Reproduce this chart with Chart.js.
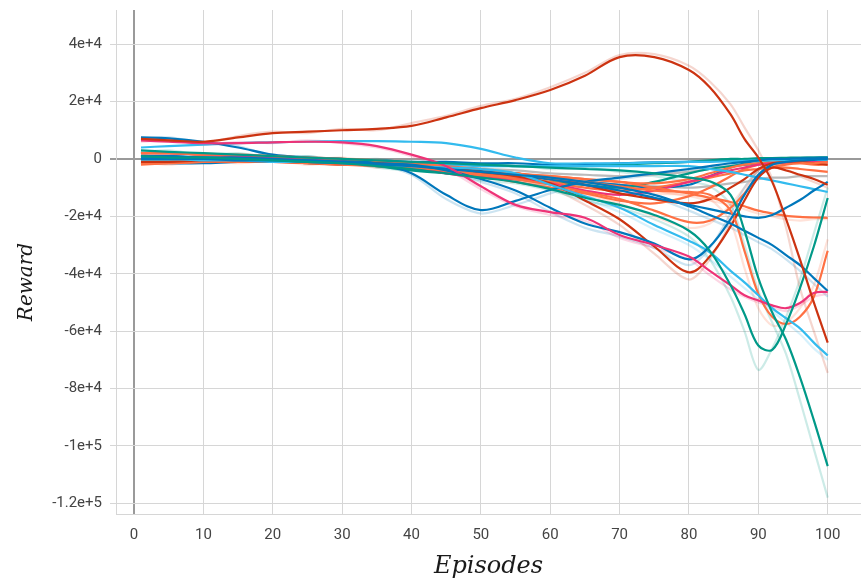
<!DOCTYPE html>
<html>
<head>
<meta charset="utf-8">
<title>Reward vs Episodes</title>
<script src="https://cdn.jsdelivr.net/npm/chart.js@4.4.1/dist/chart.umd.min.js"></script>
<style>
  html, body { margin: 0; padding: 0; background: #fff; }
  canvas { display: block; }
</style>
</head>
<body>
<canvas id="rewardChart" width="861" height="581"></canvas>
<script>
const episodes = [1, 5, 10, 15, 20, 25, 30, 35, 40, 45, 50, 55, 60, 65, 70, 75, 80, 83, 86, 88, 90, 92, 94, 96, 98, 100];
const xTicks = [0, 10, 20, 30, 40, 50, 60, 70, 80, 90, 100];
const yTicks = [-120000, -100000, -80000, -60000, -40000, -20000, 0, 20000, 40000];
const yTickLabels = ['-1.2e+5', '-1e+5', '-8e+4', '-6e+4', '-4e+4', '-2e+4', '0', '2e+4', '4e+4'];

// rewards, in thousands (smoothed runs)
const redPeak = [7, 6.5, 6, 7.5, 9, 9.5, 10, 10.5, 11.5, 14.5, 17.7, 20.5, 24, 29, 35.5, 35.5, 31, 25, 15.5, 7, 0.5, -8, -21, -35, -50, -64];
const tealDeep = [3, 2.5, 2, 1.5, 1, 0.5, 0, -0.5, -1, -1.5, -2, -2.5, -3, -3.5, -4, -5, -6.5, -7.8, -12.5, -25, -41.5, -53.5, -63, -76, -91, -107];
const tealDip = [1, 0.5, 0.5, 0, -0.5, -1, -1.5, -2.5, -3.5, -5, -6.5, -8, -10.5, -13.5, -16, -19.5, -25, -32, -44, -54, -65, -66.5, -57.5, -45, -30.5, -13.6];
const pinkA = [6.5, 6, 5.5, 5.5, 5.8, 6, 5.8, 4.5, 1.5, -2.5, -9.5, -16, -18.5, -20.5, -26.5, -30, -34, -39, -44, -47.5, -49.3, -51, -52, -50.2, -46.7, -46.3];
const pinkB = [2, 2, 1.5, 1, 0.5, 0, -1, -2, -3, -5, -6.5, -7, -8.5, -11, -12.5, -11, -8, -6, -4, -3, -2, -1.5, -1.2, -1, -1, -1];
const redV = [-1, -1, -0.5, -0.5, -1, -1, -1.5, -1.5, -2, -3, -4.5, -6, -8.5, -14.5, -21, -30.5, -39.5, -34, -23.5, -14.5, -6.5, -3, -4, -5.5, -7, -9];
const red3 = [-0.5, -0.5, -1, -1, -1, -1.5, -2, -2, -2.5, -3, -4, -5, -7, -9, -12, -14, -15.5, -14, -10, -7, -3.5, -1.5, -1, -1, -1.5, -2];
const blueA = [7.5, 7.2, 6, 4, 1.5, 0.5, 0, -1.5, -5, -12.5, -17.8, -14.6, -10.8, -8, -6.5, -5, -3.5, -2.5, -1.5, -1, -0.5, 0, 0, 0.2, 0.2, 0.3];
const blueB = [1, 1, 0.5, 0.5, 0, -0.5, -1, -1.5, -2, -4, -7, -11, -17, -22.5, -25.5, -29.5, -35, -30.5, -21, -12.5, -5.5, -2, -1, -0.5, -0.3, 0];
const blueC = [0, 0, 0, -0.5, -0.5, -1, -1.5, -2, -2.5, -3.5, -4.5, -5.5, -6.5, -8, -10, -12.5, -16.5, -19.5, -22.5, -25, -27.5, -30, -33.5, -37, -41.5, -46];
const blueD = [0.5, 0.5, 0, 0, -0.5, -0.5, -1, -1.5, -2, -3, -4, -5.5, -7, -9, -11, -13.5, -16, -17.5, -19, -20, -20.5, -19.5, -17, -14.3, -11, -8];
const blueE = [1, 1, 0.5, 0.5, 0, 0, -0.5, -0.5, -1, -1, -1.5, -1.5, -2, -2, -1.5, -1.2, -1, -0.8, -0.5, -0.3, 0, 0.2, 0.3, 0.3, 0.4, 0.5];
const blueF = [-1.5, -1.5, -1.5, -1, -1, -1, -1.5, -2, -3, -4, -5, -6, -7, -8, -9, -10, -9, -6, -3, -1.5, -0.5, 0, 0.2, 0.3, 0.4, 0.5];
const cyanA = [4, 4.5, 5, 5.5, 5.8, 6, 6.2, 6.2, 6, 5.5, 3.5, 0.5, -1.5, -1.5, -1.5, -1.2, -1, -1, -0.8, -0.7, -0.5, -0.5, -0.4, -0.3, -0.3, -0.3];
const cyanB = [0, 0, -0.5, -0.5, -1, -1, -1.5, -2, -2.5, -3, -3.5, -5, -9, -13, -17, -23, -28.5, -32.5, -39, -43, -47.5, -52, -55.5, -59, -64, -68.5];
const cyanC = [-0.5, -0.5, -0.5, -0.5, -1, -1, -1.5, -1.5, -2, -2, -2.5, -2.5, -2.5, -2.5, -2.5, -2.5, -2.5, -3.5, -4.5, -5.5, -6.5, -7.5, -8.5, -9.5, -10.5, -11.5];
const orangeA = [2, 2, 1.5, 1.5, 1, 0.5, 0, -0.5, -1.5, -2.5, -3.5, -5, -6.5, -8, -9.5, -11, -11.5, -12.5, -18, -32, -47, -55, -57.5, -55, -48, -32];
const orangeB = [0, 0, 0, -0.5, -0.5, -1, -1.5, -2, -2.5, -3.5, -4.5, -5.5, -6, -7, -8, -10, -12, -13.5, -15, -16.5, -18, -19, -19.8, -20.2, -20.4, -20.5];
const orangeC = [-1.5, -1.5, -1, -1, -1, -1.5, -2, -2.5, -3, -4, -5.5, -7, -9, -11.5, -14, -18, -22, -21.5, -17, -12, -6, -3, -2, -1.5, -1.5, -1];
const orangeD = [2, 2, 1.5, 1, 1, 0.5, 0, -1, -2, -3, -4, -5, -6, -7, -8, -8.5, -7, -5, -3, -2, -1.5, -1.5, -1.5, -1.5, -2, -2];
const orangeE = [-0.5, 0, 0, -0.5, -0.5, -1, -1.5, -2, -3, -4, -5, -6.5, -8, -10, -11, -10, -8, -6.5, -5, -4, -3.5, -3, -3, -3.5, -4, -4.5];
const orangeF = [-2, -1.5, -1, -0.5, -0.5, -0.5, -1, -1.5, -3, -4.5, -6, -8, -10, -12, -14.5, -15.5, -13, -10, -6, -3.5, -2, -1, -0.8, -0.6, -0.5, -0.5];
const tealC = [2, 2, 1.5, 1, 0.5, 0, -1, -2.5, -4, -5, -6, -7, -8, -9, -10, -8, -5, -3.5, -2.5, -2, -1.5, -1, -1, -0.8, -0.5, -0.5];
const tealD = [0.5, 0.5, 0.5, 0, 0, -0.5, -1, -1.5, -2, -2, -2, -2.5, -2.5, -2.5, -2, -1.5, -1, -0.5, 0, 0, 0.3, 0.3, 0.4, 0.5, 0.5, 0.5];
const greyA = [1, 1, 0.5, 0.5, 0, -0.5, -1, -2, -3, -4, -5, -6, -7, -8, -9, -9.5, -10, -9.5, -8.5, -8, -7, -6.5, -6.5, -6, -6, -6];
const greyB = [-0.5, -0.5, -0.5, -1, -1, -1, -1.5, -2, -2.5, -3, -3.5, -4, -5, -5.5, -6, -5.5, -4.5, -3.5, -2.5, -2.2, -2, -1.8, -1.5, -1.2, -1, -1];

// raw (unsmoothed) runs, drawn faint underneath
const redPeakRaw = [6.5, 7, 5.5, 8, 9.5, 9, 10.5, 10, 12.5, 15, 18.5, 21, 25, 30, 36.2, 36.5, 32.5, 27, 19, 11, 3, -7, -24, -45, -60, -74.5];
const tealDeepRaw = [2.5, 3, 1.5, 2, 0.5, 1, -0.5, 0, -1.5, -1, -2.5, -2, -3.5, -3, -4.5, -6, -8, -9.5, -16, -30, -46, -57, -68, -84, -101, -118];
const tealDipRaw = [1.5, 0, 1, -0.5, 0, -1.5, -1, -3, -4, -4.5, -7.5, -8.5, -11, -14.5, -17, -21, -27, -35, -48, -60, -73.5, -66, -55, -42, -26, -10];
const pinkARaw = [6, 6.5, 5, 6, 5.5, 6.5, 5.5, 4, 1, -3.5, -10.5, -16.5, -19.5, -21.5, -27.5, -31, -35, -40.5, -45.5, -48, -50, -51.5, -53, -51, -48, -47];
const blueARaw = [7, 7.5, 5.5, 4.5, 1, 1, -0.5, -2, -5.5, -14, -19, -16, -12, -8.5, -7, -5.5, -4, -3, -2, -1.5, -1, -0.5, 0, 0, 0.2, 0.3];
const cyanBRaw = [0.5, -0.5, 0, -1, -0.5, -1.5, -1, -2.5, -2, -3.5, -4, -6, -10, -14, -18.5, -24.5, -30, -35, -41, -45, -49, -53, -57, -61, -66, -70];
const orangeARaw = [2.5, 1.5, 2, 1, 1.5, 0, 0.5, -1, -1, -3, -3, -5.5, -7, -8.5, -10, -12, -12.5, -14, -22, -38, -52, -58, -57, -52, -44, -28];
const redVRaw = [-0.5, -1.5, -0.5, -1, -0.5, -1.5, -1, -2, -2.5, -3.5, -5, -7, -10, -16, -23, -33, -42, -35, -22, -12, -4, -2, -3.5, -6, -8, -10];
const blueBRaw = [1.5, 0.5, 1, 0, 0.5, -1, -0.5, -2, -2.5, -4.5, -8, -12, -18.5, -24, -27, -31, -37, -31, -19, -10, -4, -1.5, -0.5, -0.5, 0, 0];
const blueCRaw = [0.5, -0.5, 0.5, -1, 0, -1.5, -1, -2.5, -2, -4, -5, -6, -7.5, -9, -11, -13.5, -18, -21, -24, -26.5, -29, -31.5, -35, -39, -43.5, -48];
const orangeBRaw = [0.5, -0.5, 0.5, -1, 0, -1.5, -1, -2.5, -2, -4, -5, -6, -6.5, -8, -9, -11, -13, -14.5, -16, -17.5, -19, -20, -21, -21.5, -21, -21];
const orangeCRaw = [-1, -2, -0.5, -1.5, -0.5, -2, -1.5, -3, -2.5, -4.5, -6, -7.5, -10, -12.5, -15.5, -20, -24, -22.5, -16, -10, -4, -2, -1.5, -1, -1, -0.5];

const RED = '#cc3311', TEAL = '#009988', PINK = '#ee3377', BLUE = '#0077bb', CYAN = '#33bbee', ORANGE = '#ff7043', GREY = '#bbbbbb';

// first entry is drawn on top
const runs = [
  [redPeak, RED], [tealDeep, TEAL], [tealDip, TEAL], [pinkA, PINK], [blueC, BLUE], [blueB, BLUE],
  [cyanB, CYAN], [orangeA, ORANGE], [redV, RED], [blueA, BLUE], [blueD, BLUE], [orangeB, ORANGE],
  [orangeC, ORANGE], [cyanC, CYAN], [cyanA, CYAN], [red3, RED], [pinkB, PINK], [orangeD, ORANGE],
  [orangeE, ORANGE], [orangeF, ORANGE], [tealC, TEAL], [tealD, TEAL], [blueE, BLUE], [blueF, BLUE],
  [greyA, GREY], [greyB, GREY]
];
const rawRuns = [
  [redPeakRaw, RED], [tealDeepRaw, TEAL], [tealDipRaw, TEAL], [pinkARaw, PINK], [blueARaw, BLUE],
  [cyanBRaw, CYAN], [orangeARaw, ORANGE], [redVRaw, RED], [blueBRaw, BLUE], [blueCRaw, BLUE],
  [orangeBRaw, ORANGE], [orangeCRaw, ORANGE]
];

function toPoints(values) {
  return values.map((v, i) => ({ x: episodes[i], y: v * 1000 }));
}

function fade(hex, a) {
  const n = parseInt(hex.slice(1), 16);
  return `rgba(${n >> 16}, ${(n >> 8) & 255}, ${n & 255}, ${a})`;
}

// y axis title, placed like the original figure
const rewardTitle = {
  id: 'rewardTitle',
  afterDraw(chart) {
    const ctx = chart.ctx;
    ctx.save();
    ctx.translate(27, 282);
    ctx.rotate(-Math.PI / 2);
    ctx.font = 'italic 20px "DejaVu Serif"';
    ctx.fillStyle = '#1a1a1a';
    ctx.textAlign = 'center';
    ctx.textBaseline = 'middle';
    ctx.fillText('Reward', 0, 0);
    ctx.restore();
  }
};

let rewardChartInst = null;

function initChart() {
  const datasets = [];
  runs.forEach(([values, color]) => {
    datasets.push({ data: toPoints(values), borderColor: color, borderWidth: 2.2, pointRadius: 0, tension: 0.35 });
  });
  rawRuns.forEach(([values, color]) => {
    datasets.push({ data: toPoints(values), borderColor: fade(color, 0.2), borderWidth: 2.2, pointRadius: 0, tension: 0.3 });
  });

  const gridColor = ctx => (ctx.tick && ctx.tick.value === 0 ? '#9a9a9a' : '#d6d6d6');
  const gridWidth = ctx => (ctx.tick && ctx.tick.value === 0 ? 2 : 1);

  const ctxReward = document.getElementById('rewardChart').getContext('2d');
  rewardChartInst = new Chart(ctxReward, {
    type: 'line',
    data: { datasets },
    plugins: [rewardTitle],
    options: {
      responsive: false,
      animation: false,
      devicePixelRatio: 1,
      layout: { padding: { top: 10, right: 0, bottom: 0, left: 0 } },
      plugins: { legend: { display: false }, tooltip: { enabled: false } },
      scales: {
        x: {
          type: 'linear',
          min: -2.6,
          max: 104.8,
          afterBuildTicks: scale => { scale.ticks = xTicks.map(v => ({ value: v })); },
          afterFit: scale => { scale.height = 67; scale.paddingLeft = 0; scale.paddingRight = 0; },
          grid: { color: gridColor, lineWidth: gridWidth, drawTicks: false },
          border: { color: '#d6d6d6' },
          ticks: { padding: 12, color: '#444', font: { family: 'Roboto', size: 15 }, maxRotation: 0 },
          title: { display: true, text: 'Episodes', color: '#1a1a1a', padding: { top: 0, bottom: 0 }, font: { family: 'DejaVu Serif', style: 'italic', size: 24 } }
        },
        y: {
          min: -123700,
          max: 51900,
          afterBuildTicks: scale => { scale.ticks = yTicks.map(v => ({ value: v })); },
          afterFit: scale => { scale.width = 116; scale.paddingTop = 0; scale.paddingBottom = 0; },
          grid: { color: gridColor, lineWidth: gridWidth, tickLength: 6 },
          border: { color: '#d6d6d6' },
          ticks: {
            padding: 8,
            color: '#444',
            font: { family: 'Roboto', size: 15 },
            callback: value => yTickLabels[yTicks.indexOf(value)]
          }
        }
      }
    }
  });
}

initChart();
</script>
</body>
</html>
